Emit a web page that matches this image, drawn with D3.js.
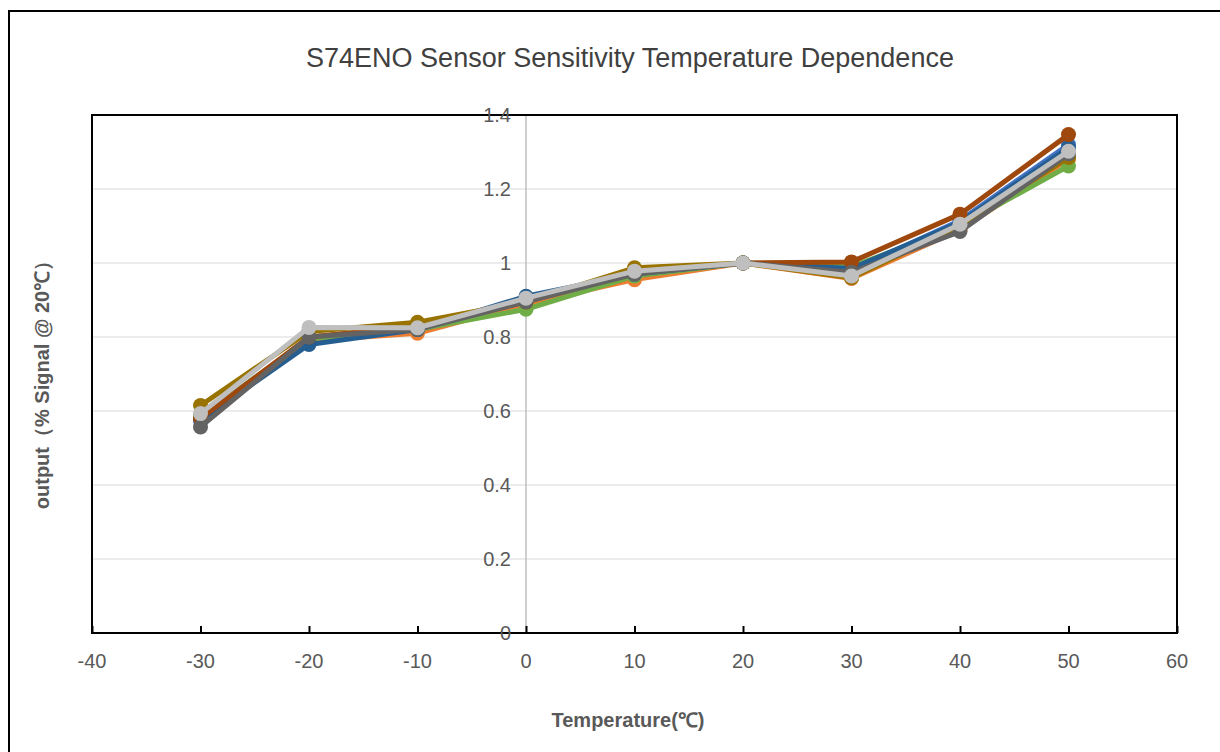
<!DOCTYPE html>
<html><head><meta charset="utf-8">
<script src="https://cdn.jsdelivr.net/npm/d3@7/dist/d3.min.js"></script>
<style>body{margin:0;background:#fff;} svg{display:block;font-family:"Liberation Sans",Arial,sans-serif;}</style>
</head><body>
<svg id="c" width="1220" height="752"></svg>
<script>
const temperatures = [-30, -20, -10, 0, 10, 20, 30, 40, 50];
const xTicks = [-40, -30, -20, -10, 0, 10, 20, 30, 40, 50, 60];
const yTicks = [0, 0.2, 0.4, 0.6, 0.8, 1, 1.2, 1.4];
const seriesNames = ["S1", "S2", "S3", "S4", "S5", "S6", "S7", "S8"];
const seriesColors = ["#4472C4", "#ED7D31", "#70AD47", "#255E91", "#9E480E", "#997300", "#636363", "#BFBFBF"];
const s1 = [0.580, 0.790, 0.820, 0.905, 0.970, 1.000, 0.980, 1.115, 1.320];
const s2 = [0.585, 0.790, 0.810, 0.890, 0.955, 1.000, 0.958, 1.090, 1.280];
const s3 = [0.585, 0.795, 0.820, 0.875, 0.965, 1.000, 0.990, 1.100, 1.262];
const s4 = [0.575, 0.780, 0.820, 0.910, 0.970, 1.000, 0.985, 1.110, 1.312];
const s5 = [0.580, 0.800, 0.830, 0.895, 0.975, 1.000, 1.003, 1.132, 1.347];
const s6 = [0.615, 0.815, 0.840, 0.895, 0.987, 1.000, 0.960, 1.100, 1.285];
const s7 = [0.557, 0.800, 0.820, 0.895, 0.970, 1.000, 0.975, 1.085, 1.295];
const s8 = [0.593, 0.826, 0.825, 0.905, 0.978, 1.000, 0.965, 1.105, 1.302];
const seriesValues = [s1, s2, s3, s4, s5, s6, s7, s8];

const svg = d3.select("#c");
// outer frame
svg.append("rect").attr("x", 9).attr("y", 11).attr("width", 1240).attr("height", 780)
  .attr("fill", "none").attr("stroke", "#000").attr("stroke-width", 2);

const L = 92, R = 1177, T = 115, B = 633;
const x = d3.scaleLinear().domain([-40, 60]).range([L, R]);
const y = d3.scaleLinear().domain([0, 1.4]).range([B, T]);

// gridlines
svg.append("g").selectAll("line").data(yTicks.filter(d => d > 0)).join("line")
  .attr("x1", L).attr("x2", R).attr("y1", d => y(d)).attr("y2", d => y(d))
  .attr("stroke", "#D9D9D9").attr("stroke-width", 1);

// y axis line at x=0
svg.append("line").attr("x1", x(0)).attr("x2", x(0)).attr("y1", T).attr("y2", B)
  .attr("stroke", "#BFBFBF").attr("stroke-width", 1.5);

// plot border
svg.append("rect").attr("x", L).attr("y", T).attr("width", R - L).attr("height", B - T)
  .attr("fill", "none").attr("stroke", "#000").attr("stroke-width", 2);

// x ticks (inward)
const xAxis = d3.axisTop(x).tickValues(xTicks).tickSize(7).tickFormat("");
const gx = svg.append("g").attr("transform", `translate(0,${B})`).call(xAxis);
gx.select(".domain").remove();
gx.selectAll(".tick line").attr("stroke", "#000").attr("stroke-width", 2);

// x tick labels
svg.append("g").selectAll("text").data(xTicks).join("text")
  .attr("x", d => x(d)).attr("y", 668).attr("text-anchor", "middle")
  .attr("font-size", 20).attr("fill", "#595959").text(d => d);

// y tick labels
const yfmt = d => (d === 0 || d === 1) ? String(d) : d.toFixed(1);
svg.append("g").selectAll("text").data(yTicks).join("text")
  .attr("x", 511).attr("y", d => y(d) + 7).attr("text-anchor", "end")
  .attr("font-size", 20).attr("fill", "#595959").text(yfmt);

// lines & markers
const line = d3.line().x((d, i) => x(temperatures[i])).y(d => y(d));
seriesValues.forEach((vals, k) => {
  const g = svg.append("g");
  g.append("path").attr("d", line(vals)).attr("fill", "none")
    .attr("stroke", seriesColors[k]).attr("stroke-width", 5).attr("stroke-linejoin", "round");
  g.selectAll("circle").data(vals).join("circle")
    .attr("cx", (d, i) => x(temperatures[i])).attr("cy", d => y(d)).attr("r", 7.5)
    .attr("fill", seriesColors[k]);
});

// title
svg.append("text").attr("x", 630).attr("y", 67).attr("text-anchor", "middle")
  .attr("font-size", 27).attr("fill", "#404040")
  .text("S74ENO Sensor Sensitivity Temperature Dependence");

// axis titles
svg.append("text").attr("x", 628).attr("y", 727).attr("text-anchor", "middle")
  .attr("font-size", 20).attr("font-weight", "bold").attr("fill", "#595959")
  .text("Temperature(℃)");
svg.append("text").attr("transform", "translate(49,380) rotate(-90)").attr("text-anchor", "middle")
  .attr("font-size", 20).attr("font-weight", "bold").attr("fill", "#595959")
  .text("output（% Signal @ 20℃）");
</script>
</body></html>
